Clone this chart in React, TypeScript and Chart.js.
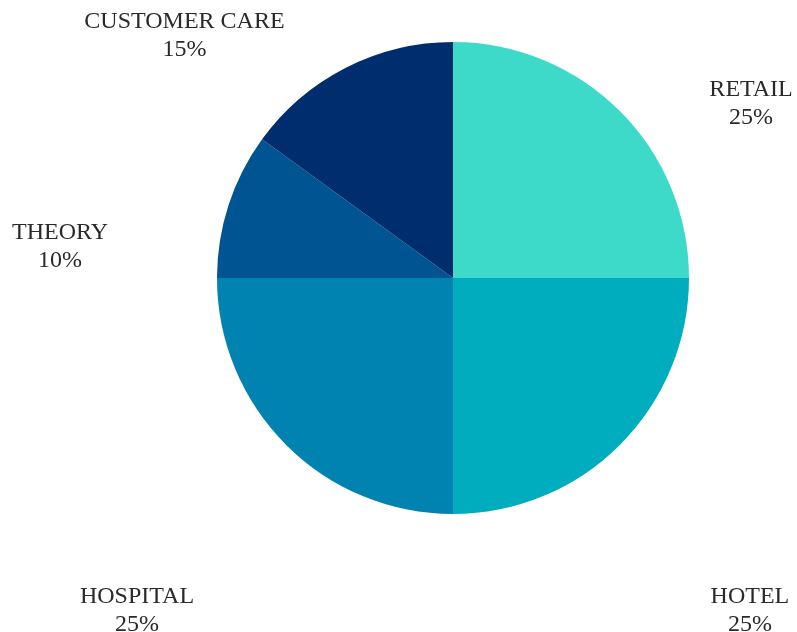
import React, { useEffect, useRef } from "react";
import { Chart, registerables } from "chart.js";

Chart.register(...registerables);

const categories = ["RETAIL", "HOTEL", "HOSPITAL", "THEORY", "CUSTOMER CARE"];
const shares = [25, 25, 25, 10, 15];
const sliceColors = ["#3ddac9", "#00adbf", "#0083b1", "#005491", "#002d6e"];

// label placement relative to pie centre, in units of the radius (layout only)
const labelPlacement = [
  [1.263, -0.797],
  [1.258, 1.352],
  [-1.339, 1.352],
  [-1.665, -0.191],
  [-1.138, -1.085],
];

const outsideLabels = {
  id: "outsideLabels",
  afterDatasetsDraw(chart: any) {
    const meta = chart.getDatasetMeta(0);
    const ctx = chart.ctx;
    ctx.save();
    ctx.fillStyle = "#2a2a2a";
    ctx.textAlign = "center";
    ctx.textBaseline = "middle";
    ctx.font = "24px 'Liberation Serif', 'DejaVu Serif', serif";
    meta.data.forEach((arc: any, i: number) => {
      const { x, y, outerRadius } = arc.getProps(["x", "y", "outerRadius"], true);
      const p = labelPlacement[i];
      const lx = x + p[0] * outerRadius;
      const ly = y + p[1] * outerRadius;
      ctx.fillText(categories[i], lx, ly);
      ctx.fillText(shares[i] + "%", lx, ly + 28);
    });
    ctx.restore();
  },
};

export default function App() {
  const ref = useRef<HTMLCanvasElement | null>(null);
  useEffect(() => {
    document.body.style.margin = "0";
    if (!ref.current) return;
    const chart = new Chart(ref.current, {
      type: "pie",
      data: {
        labels: categories,
        datasets: [
          {
            data: shares,
            backgroundColor: sliceColors,
            borderWidth: 0,
          },
        ],
      },
      options: {
        animation: false,
        responsive: false,
        maintainAspectRatio: false,
        layout: { padding: { left: 217, right: 108, top: 42, bottom: 118 } },
        plugins: {
          legend: { display: false },
          tooltip: { enabled: false },
        },
      },
      plugins: [outsideLabels],
    });
    return () => chart.destroy();
  }, []);
  return (
    <div style={{ width: 797, height: 632, background: "#ffffff" }}>
      <canvas ref={ref} width={797} height={632} style={{ display: "block" }} />
    </div>
  );
}
